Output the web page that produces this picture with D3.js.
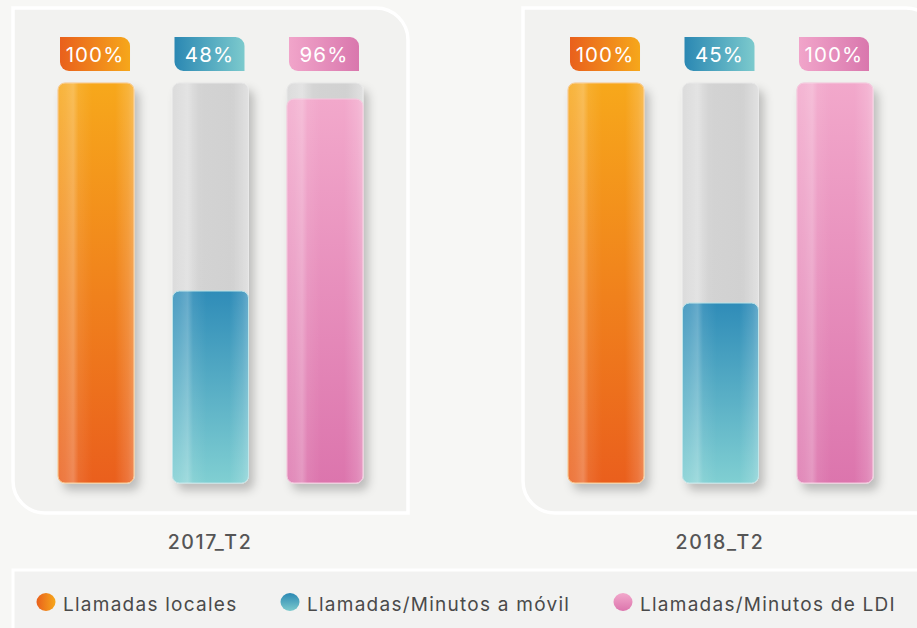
<!DOCTYPE html>
<html>
<head>
<meta charset="utf-8">
<script src="https://cdn.jsdelivr.net/npm/d3@7"></script>
<style>
  html, body { margin: 0; padding: 0; background: #f7f7f5; }
  svg { display: block; }
  text { font-family: Inter, "Noto Sans", sans-serif; }
</style>
</head>
<body>
<svg id="chart" width="917" height="628"></svg>
<script>
// Periods (one panel each), series and their values in percent
const periods = ["2017_T2", "2018_T2"];
const seriesNames = ["Llamadas locales", "Llamadas/Minutos a móvil", "Llamadas/Minutos de LDI"];
const localesValues = [100, 100];
const movilValues = [48, 45];
const ldiValues = [96, 100];
const valuesBySeries = [localesValues, movilValues, ldiValues];

// Series palettes: bar gradient (top, bottom) and tag gradient (left, right)
const palettes = [
  { top: "#f7a81b", bottom: "#ea5f1d", tagL: "#e9601c", tagR: "#f6a71b", edge: "#fbc98a" },
  { top: "#2f8cb8", bottom: "#80cfd2", tagL: "#2b88b3", tagR: "#7ccacd", edge: "#b9e2e6" },
  { top: "#f2a8cb", bottom: "#dc75ad", tagL: "#f1a5ca", tagR: "#d977ad", edge: "#f6c6dd" }
];

const svg = d3.select("#chart");
const defs = svg.append("defs");

// Shadow for the bars
const sh = defs.append("filter").attr("id", "barShadow")
  .attr("x", "-30%").attr("y", "-10%").attr("width", "170%").attr("height", "130%");
sh.append("feDropShadow").attr("dx", 5).attr("dy", 7).attr("stdDeviation", 5)
  .attr("flood-color", "#000").attr("flood-opacity", 0.22);

// Colour gradients for bars, tags and legend dots
palettes.forEach((p, i) => {
  const g = defs.append("linearGradient").attr("id", "fill" + i)
    .attr("x1", 0).attr("y1", 0).attr("x2", 0).attr("y2", 1);
  g.append("stop").attr("offset", "0%").attr("stop-color", p.top);
  g.append("stop").attr("offset", "100%").attr("stop-color", p.bottom);
  const t = defs.append("linearGradient").attr("id", "tag" + i)
    .attr("x1", 0).attr("y1", 0).attr("x2", 1).attr("y2", 0);
  t.append("stop").attr("offset", "0%").attr("stop-color", p.tagL);
  t.append("stop").attr("offset", "100%").attr("stop-color", p.tagR);
  const l = defs.append("linearGradient").attr("id", "leg" + i)
    .attr("x1", 0).attr("y1", 0).attr("x2", i === 0 ? 1 : 0).attr("y2", i === 0 ? 0 : 1);
  l.append("stop").attr("offset", "0%").attr("stop-color", i === 2 ? p.top : p.tagL);
  l.append("stop").attr("offset", "100%").attr("stop-color", i === 2 ? p.bottom : p.tagR);
});

// Horizontal gloss laid over every bar
const gloss = defs.append("linearGradient").attr("id", "gloss")
  .attr("x1", 0).attr("y1", 0).attr("x2", 1).attr("y2", 0);
[[0, 0.14], [0.1, 0.18], [0.2, 0.26], [0.27, 0.08], [0.45, 0], [0.75, 0], [0.92, 0.14], [1, 0.26]]
  .forEach(([o, a]) => gloss.append("stop").attr("offset", o * 100 + "%")
    .attr("stop-color", "#fff").attr("stop-opacity", a));

// Grey track gradient
const track = defs.append("linearGradient").attr("id", "track")
  .attr("x1", 0).attr("y1", 0).attr("x2", 1).attr("y2", 0);
[[0, "#d9d9d9"], [0.2, "#dedede"], [0.35, "#d3d3d3"], [0.8, "#d1d1d1"], [1, "#dcdcdc"]]
  .forEach(([o, c]) => track.append("stop").attr("offset", o * 100 + "%").attr("stop-color", c));

// Scales
const panelWidth = 395;
const xPeriod = d3.scaleBand().domain(periods).range([13, 13 + 2 * panelWidth + 115]).paddingInner(115 / 510).paddingOuter(0);
const xSeries = d3.scaleBand().domain(d3.range(seriesNames.length)).range([45, 350]).paddingInner(0.336).paddingOuter(0);
const y = d3.scaleLinear().domain([0, 100]).range([483, 83]);

// Rounded-corner path helper (tl, tr, br, bl radii)
function roundedRect(x, y0, w, h, r) {
  const [tl, tr, br, bl] = r;
  return `M${x + tl},${y0}H${x + w - tr}` +
    (tr ? `A${tr},${tr} 0 0 1 ${x + w},${y0 + tr}` : "") +
    `V${y0 + h - br}` +
    (br ? `A${br},${br} 0 0 1 ${x + w - br},${y0 + h}` : "") +
    `H${x + bl}` +
    (bl ? `A${bl},${bl} 0 0 1 ${x},${y0 + h - bl}` : "") +
    `V${y0 + tl}` +
    (tl ? `A${tl},${tl} 0 0 1 ${x + tl},${y0}` : "") + "Z";
}

// Panels
periods.forEach((per, pi) => {
  const px = xPeriod(per);
  const g = svg.append("g").attr("transform", `translate(${px},0)`);
  g.append("path")
    .attr("d", roundedRect(0, 8, panelWidth + (pi === 1 ? 20 : 0), 505, [0, 32, 0, 32]))
    .attr("fill", "#f2f2f0").attr("stroke", "#ffffff").attr("stroke-width", 3.5);

  seriesNames.forEach((s, si) => {
    const bx = xSeries(si), bw = xSeries.bandwidth();
    const v = valuesBySeries[si][pi];
    const p = palettes[si];
    const bar = g.append("g");
    // Track
    bar.append("rect").attr("x", bx).attr("y", y(100)).attr("width", bw).attr("height", y(0) - y(100))
      .attr("rx", 7).attr("fill", "url(#track)").attr("stroke", "#e6e6e6").attr("stroke-width", 1)
      .attr("filter", "url(#barShadow)");
    bar.append("rect").attr("x", bx).attr("y", y(100)).attr("width", bw).attr("height", y(0) - y(100))
      .attr("rx", 7).attr("fill", "url(#gloss)").attr("opacity", 0.6);
    // Value fill
    bar.append("rect").attr("x", bx).attr("y", y(v)).attr("width", bw).attr("height", y(0) - y(v))
      .attr("rx", 7).attr("fill", `url(#fill${si})`).attr("stroke", p.edge).attr("stroke-width", 1);
    bar.append("rect").attr("x", bx).attr("y", y(v)).attr("width", bw).attr("height", y(0) - y(v))
      .attr("rx", 7).attr("fill", "url(#gloss)");

    // Value tag
    const tw = 70, th = 34, tx = bx + bw / 2 - tw / 2 - 1;
    g.append("path").attr("d", roundedRect(tx, 37, tw, th, [0, 9, 0, 9]))
      .attr("fill", `url(#tag${si})`);
    g.append("text").attr("x", tx + tw / 2).attr("y", 62)
      .attr("text-anchor", "middle").attr("fill", "#fff")
      .attr("font-size", 20.5).attr("letter-spacing", 1.1)
      .text(v + "%");
  });

  // Period label
  svg.append("text").attr("x", px + 197).attr("y", 549)
    .attr("text-anchor", "middle").attr("fill", "#555")
    .attr("font-size", 19.5).attr("font-weight", 500).attr("letter-spacing", 1.6)
    .text(per);
});

// Legend
const legend = svg.append("g");
legend.append("path").attr("d", roundedRect(13, 570, 920, 80, [0, 14, 0, 0]))
  .attr("fill", "#f2f2f1").attr("stroke", "#ffffff").attr("stroke-width", 3);
const legendX = [46, 290, 623];
seriesNames.forEach((s, i) => {
  legend.append("ellipse").attr("cx", legendX[i]).attr("cy", 602).attr("rx", 9.5).attr("ry", 9)
    .attr("fill", `url(#leg${i})`);
  legend.append("text").attr("x", legendX[i] + 17).attr("y", 611)
    .attr("fill", "#4a4a4a").attr("font-size", 19).attr("letter-spacing", 1.25)
    .text(s);
});
</script>
</body>
</html>
